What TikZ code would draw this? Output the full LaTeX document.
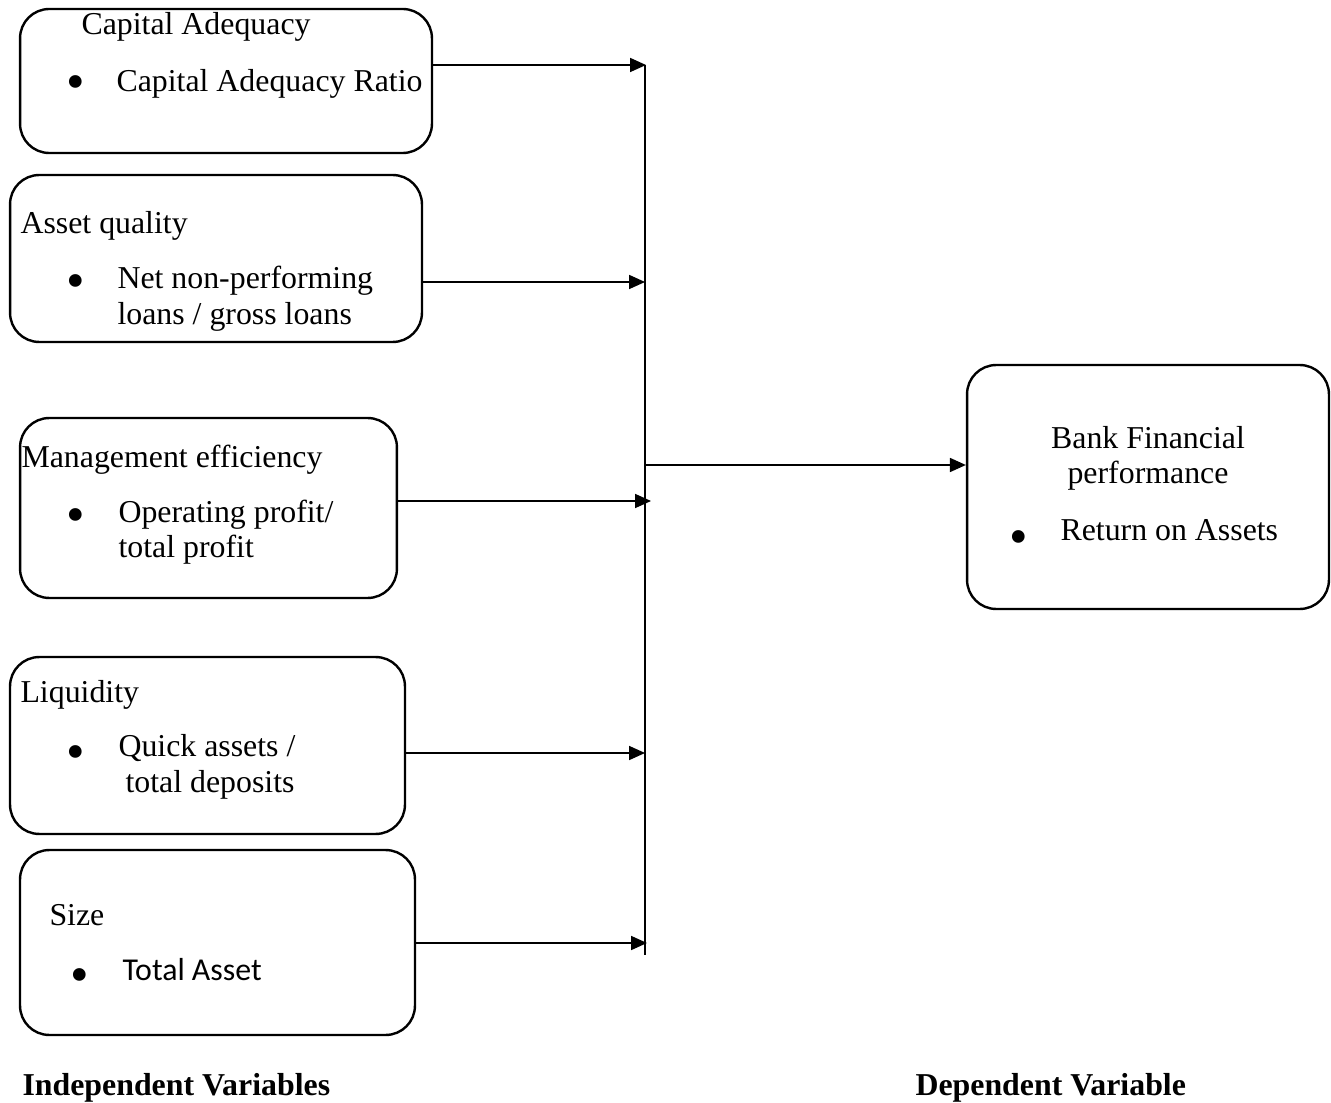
\documentclass[tikz,border=0pt]{standalone}
\usepackage{fontspec}
\setmainfont{Liberation Serif}
\newfontfamily\calibri{Carlito}
\usetikzlibrary{arrows.meta}
\begin{document}
\begin{tikzpicture}[x=0.01324cm,y=-0.01324cm,
 font=\fontsize{12}{14}\selectfont,
 box/.style={draw,line width=0.9pt,rounded corners=11pt,inner sep=0},
 txt/.style={anchor=west,inner sep=0,text height=0.7em,text depth=0.2em},
 ctxt/.style={txt,anchor=center},
 dot/.style={inner sep=0,anchor=center,font=\fontsize{20}{20}\selectfont},
 arr/.style={-{Triangle[length=6pt,width=5.3pt]},line width=0.5pt}]
\useasboundingbox (0,0) rectangle (1331,1103);
% boxes
\node(cap)[box,minimum width=5.455cm,minimum height=1.907cm] at (226,81) {};
\node(aq)[box,minimum width=5.455cm,minimum height=2.211cm] at (216,258.5) {};
\node(me)[box,minimum width=4.991cm,minimum height=2.383cm] at (208.5,508) {};
\node(liq)[box,minimum width=5.230cm,minimum height=2.343cm] at (207.5,745.5) {};
\node(sz)[box,minimum width=5.230cm,minimum height=2.449cm] at (217.5,942.5) {};
\node(bfp)[box,minimum width=4.793cm,minimum height=3.231cm] at (1148,487) {};
% texts
\node(capt)[txt] at (81,28) {Capital Adequacy};
\node(capb)[dot] at (76,88) {•};
\node(capi)[txt] at (116,85) {Capital Adequacy Ratio};
\node(aqt)[txt] at (20,227) {Asset quality};
\node(aqb)[dot] at (76,287) {•};
\node(aqi1)[txt] at (117,282) {Net non-performing};
\node(aqi2)[txt] at (117,318) {loans / gross loans};
\node(met)[txt] at (21,461) {Management efficiency};
\node(meb)[dot] at (76,521) {•};
\node(mei1)[txt] at (118,516) {Operating profit/};
\node(mei2)[txt] at (118,551) {total profit};
\node(liqt)[txt] at (20,696) {Liquidity};
\node(liqb)[dot] at (76,758) {•};
\node(liqi1)[txt] at (118,750) {Quick assets /};
\node(liqi2)[txt] at (125,786) {total deposits};
\node(szt)[txt] at (49,919) {Size};
\node(szb)[dot] at (80,981) {•};
\node(szi)[txt] at (122,974) {\calibri Total Asset};
\node(bfpt1)[ctxt] at (1148,442) {Bank Financial};
\node(bfpt2)[ctxt] at (1148,477) {performance};
\node(bfpb)[dot] at (1019,543) {•};
\node(bfpi)[txt] at (1060,534) {Return on Assets};
\node(ind)[txt] at (22,1089) {\bfseries Independent Variables};
\node(dep)[txt] at (915,1089) {\bfseries Dependent Variable};
% bus line
\coordinate (bt) at (645,65);
\coordinate (bb) at (645,955);
\coordinate (bm) at (645,465);
\coordinate (j1) at (646,65);
\coordinate (j2) at (645,282);
\coordinate (j3) at (651,501);
\coordinate (j4) at (645,753);
\coordinate (j5) at (647,943);
\draw[line width=0.5pt] (bt) -- (bb);
\draw[arr] (cap.east |- j1) -- (j1);
\draw[arr] (aq.east |- j2) -- (j2);
\draw[arr] (me.east |- j3) -- (j3);
\draw[arr] (liq.east |- j4) -- (j4);
\draw[arr] (sz.east |- j5) -- (j5);
\draw[arr] (bm) -- (bfp.west |- bm);
\end{tikzpicture}
\end{document}
